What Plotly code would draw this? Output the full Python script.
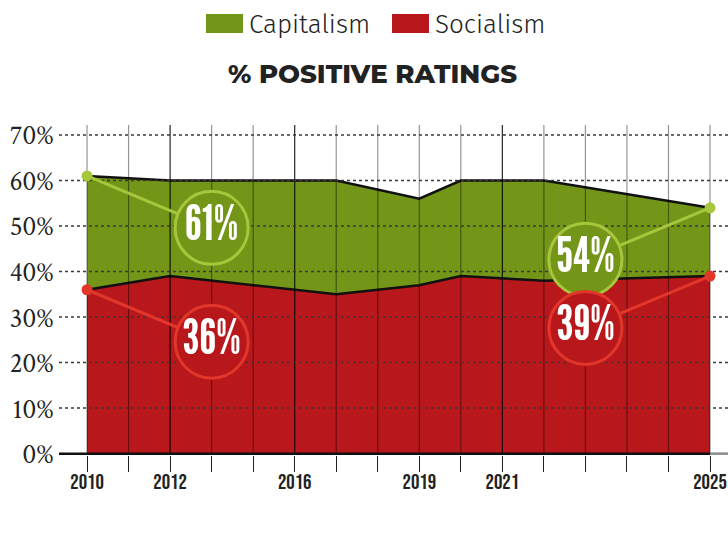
import plotly.graph_objects as go

# ---- data ----
years = [2010, 2012, 2016, 2018, 2019, 2021, 2025]
capitalism = [61, 60, 60, 56, 60, 60, 54]
socialism = [36, 39, 35, 37, 39, 38, 39]

tick_positions = [2010, 2012, 2015, 2018, 2020, 2025]
tick_labels = ["2010", "2012", "2016", "2019", "2021", "2025"]
y_ticks = [0, 10, 20, 30, 40, 50, 60, 70]

# callout bubbles (first and last values)
bubble_x = [2013, 2022]
cap_bubble_y = [49.6, 42.6]
soc_bubble_y = [24.6, 27.6]

# ---- style ----
GREEN = "#739619"
RED = "#b8181b"
LGREEN = "#a6c73c"
LRED = "#e2362b"
INK = "#222222"

W, H = 728, 536
XMIN, XMAX = 2009.325, 2025.433
YMIN, YMAX = -0.3, 72.19
PX_PER_UNIT = 4.557
L, R, T = 59, 0, 125
B = 536 - 454 - (0 - YMIN) * PX_PER_UNIT


def pxx(p):
    return (p - L) / (W - L - R)


def pxy(p):
    return (H - B - p) / (H - T - B)


fig = go.Figure()

fig.add_trace(go.Scatter(x=years, y=capitalism, mode="lines", fill="tozeroy",
                         fillcolor=GREEN, line=dict(color="#111111", width=2.5),
                         hoverinfo="skip", showlegend=False))
fig.add_trace(go.Scatter(x=years, y=socialism, mode="lines", fill="tozeroy",
                         fillcolor=RED, line=dict(color="#111111", width=2.5),
                         hoverinfo="skip", showlegend=False))

# vertical grid lines over the areas
all_years = list(range(years[0], years[-1] + 1))
dark_years = [y for y in tick_positions if y not in (years[0], years[-1], 2018)]
vx_l, vy_l, vx_d, vy_d = [], [], [], []
for yr in all_years:
    if yr in dark_years:
        vx_d += [yr, yr, None]
        vy_d += [YMIN, YMAX, None]
    else:
        vx_l += [yr, yr, None]
        vy_l += [YMIN, YMAX, None]
fig.add_trace(go.Scatter(x=vx_l, y=vy_l, mode="lines",
                         line=dict(color="rgba(0,0,0,0.42)", width=1.2),
                         hoverinfo="skip", showlegend=False))
fig.add_trace(go.Scatter(x=vx_d, y=vy_d, mode="lines",
                         line=dict(color="rgba(0,0,0,0.85)", width=1.2),
                         hoverinfo="skip", showlegend=False))

# dotted horizontal grid lines
hx, hy = [], []
for v in y_ticks[1:]:
    hx += [XMIN, XMAX, None]
    hy += [v, v, None]
fig.add_trace(go.Scatter(x=hx, y=hy, mode="lines",
                         line=dict(color="#3a3a3a", width=1.5, dash="dot"),
                         hoverinfo="skip", showlegend=False))

# baseline: dark under the data, grey beyond the last year
fig.add_trace(go.Scatter(x=[XMIN, years[-1]], y=[0, 0], mode="lines",
                         line=dict(color="#111111", width=2.5),
                         hoverinfo="skip", showlegend=False))
fig.add_trace(go.Scatter(x=[years[-1], XMAX], y=[0, 0], mode="lines",
                         line=dict(color="#8a8a8a", width=2.5),
                         hoverinfo="skip", showlegend=False))

# connectors
for vals, by, col in [(capitalism, cap_bubble_y, LGREEN), (socialism, soc_bubble_y, LRED)]:
    fig.add_trace(go.Scatter(x=[years[0], bubble_x[0], None, years[-1], bubble_x[1]],
                             y=[vals[0], by[0], None, vals[-1], by[1]],
                             mode="lines", line=dict(color=col, width=3),
                             hoverinfo="skip", showlegend=False))

# bubbles
for vals, by, fillc, edge in [(capitalism, cap_bubble_y, GREEN, LGREEN),
                              (socialism, soc_bubble_y, RED, LRED)]:
    fig.add_trace(go.Scatter(x=bubble_x, y=by, mode="markers+text",
                             marker=dict(size=73, color=fillc, line=dict(color=edge, width=3)),
                             text=[f"{vals[0]}%", f"{vals[-1]}%"],
                             textposition="middle center",
                             textfont=dict(family="League Gothic, Oswald, sans-serif",
                                           size=49, color="white"),
                             cliponaxis=False, hoverinfo="skip", showlegend=False))

# end dots
for vals, col in [(capitalism, LGREEN), (socialism, LRED)]:
    fig.add_trace(go.Scatter(x=[years[0], years[-1]], y=[vals[0], vals[-1]], mode="markers",
                             marker=dict(size=11, color=col), cliponaxis=False,
                             hoverinfo="skip", showlegend=False))

# legend (drawn)
legend_items = [("Capitalism", GREEN, 206, 243, 247), ("Socialism", RED, 392, 429, 433)]
for name, col, x0, x1, tx in legend_items:
    fig.add_shape(type="rect", xref="paper", yref="paper",
                  x0=pxx(x0), x1=pxx(x1), y0=pxy(33), y1=pxy(14),
                  fillcolor=col, line=dict(width=0))
    fig.add_annotation(x=pxx(tx), y=pxy(24), xref="paper", yref="paper", text=name,
                       showarrow=False, xanchor="left", yanchor="middle",
                       font=dict(family="Fira Sans Light, Fira Sans, sans-serif", size=26, color=INK))

fig.add_annotation(x=pxx(372), y=pxy(74), xref="paper", yref="paper",
                   text="% POSITIVE RATINGS", showarrow=False,
                   xanchor="center", yanchor="middle",
                   font=dict(family="Montserrat, sans-serif", size=26, color=INK, weight=800))

fig.update_layout(
    width=W, height=H,
    margin=dict(l=L, r=R, t=T, b=B, pad=0),
    paper_bgcolor="white", plot_bgcolor="white",
    xaxis=dict(range=[XMIN, XMAX], showgrid=False, zeroline=False, showline=False,
               tickvals=tick_positions, ticktext=tick_labels,
               ticks="outside", ticklen=16, tickwidth=1.2, tickcolor=INK,
               minor=dict(dtick=1, tick0=years[0], ticks="outside", ticklen=16,
                          tickwidth=1.2, tickcolor=INK, showgrid=False),
               ticklabelstandoff=-8,
               tickfont=dict(family="Bebas Neue, Oswald, sans-serif", size=21, color=INK),
               fixedrange=True),
    yaxis=dict(range=[YMIN, YMAX], showgrid=False, zeroline=False,
               tickvals=y_ticks, ticktext=[f"{v}%" for v in y_ticks],
               ticks="", showline=False, ticklabelstandoff=4,
               tickfont=dict(family="Crimson Text, Liberation Serif, serif", size=27, color=INK),
               fixedrange=True),
)

fig.write_html("out.html", config={"displayModeBar": False},
               post_script="document.body.style.margin='0';document.body.style.overflow='hidden';")
